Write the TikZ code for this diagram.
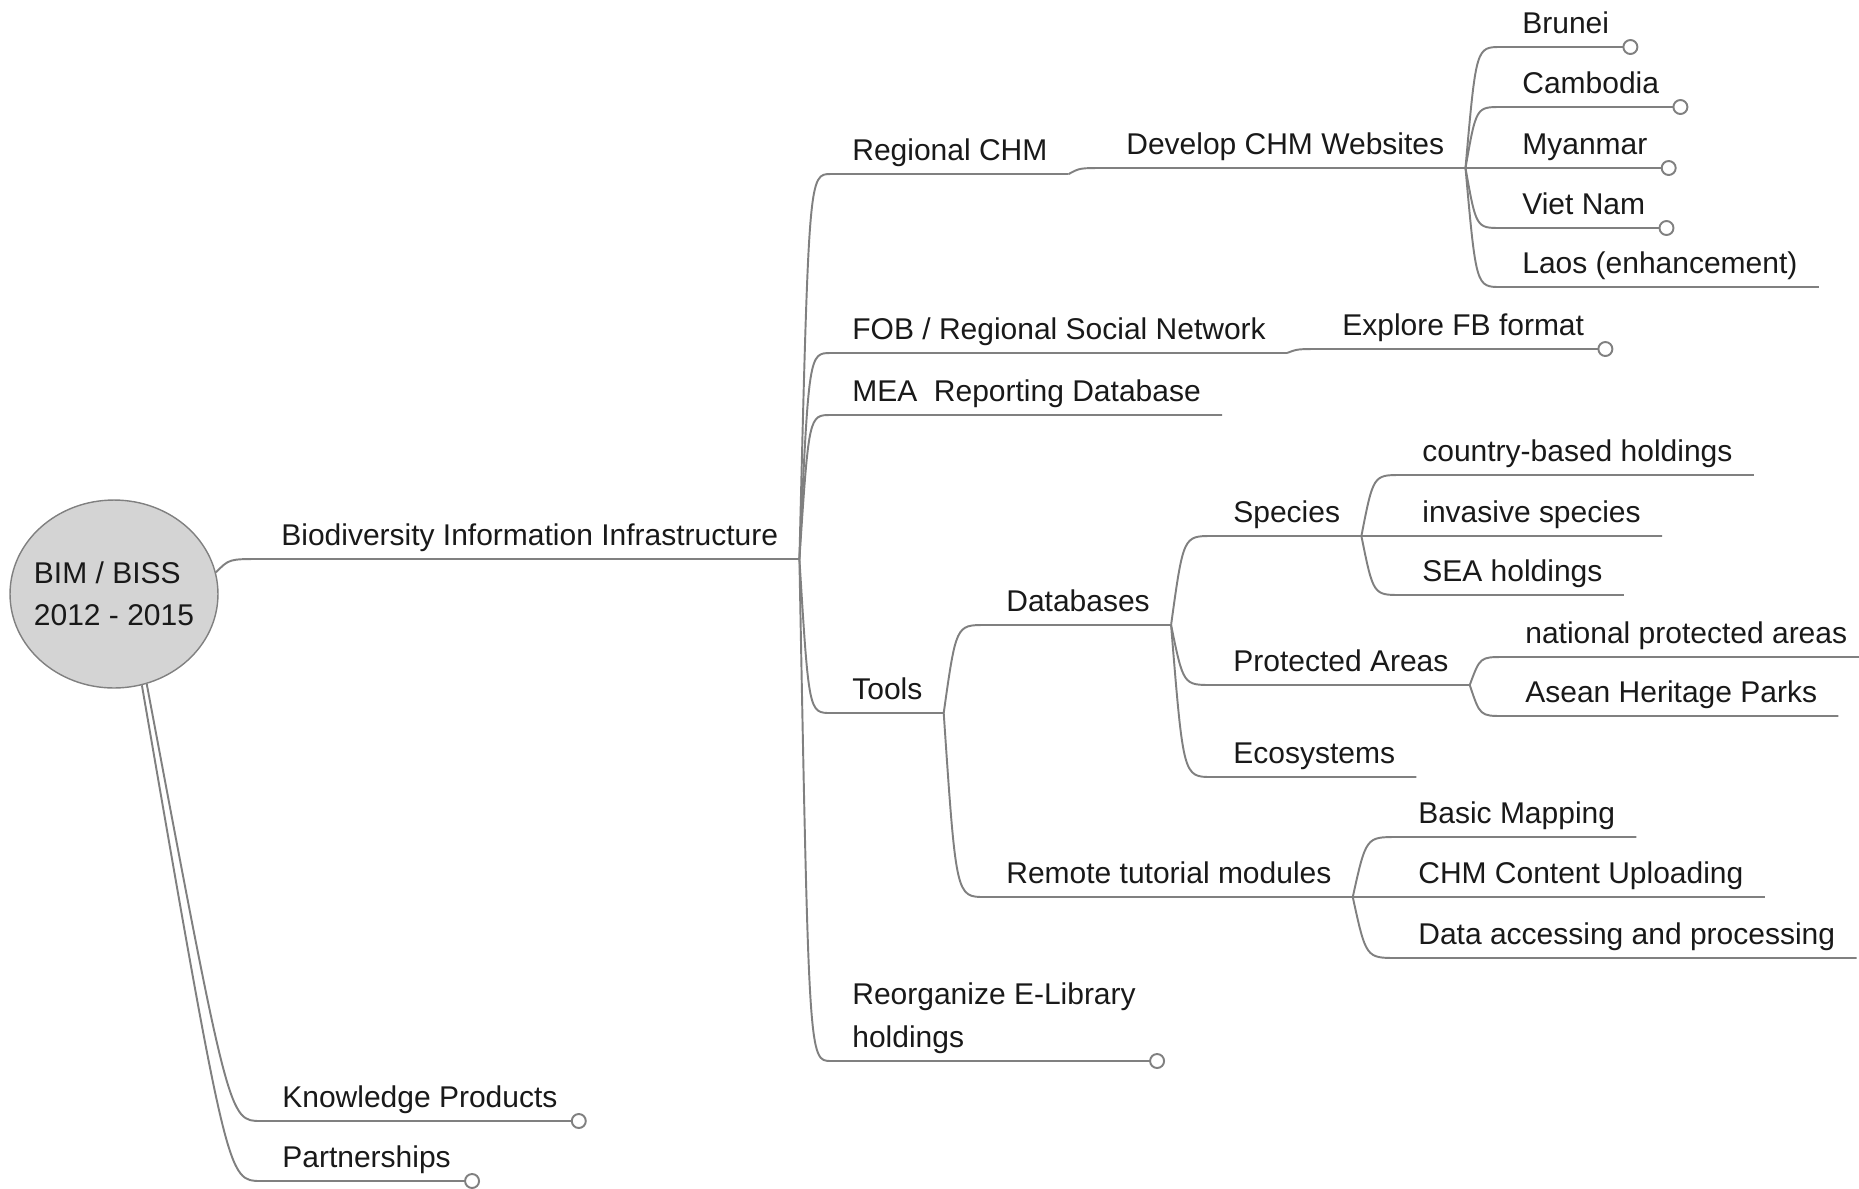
\documentclass[tikz,border=0pt]{standalone}
\usepackage{fontspec}
\setmainfont{Liberation Sans}
\usetikzlibrary{calc,shapes.geometric}
\definecolor{linegray}{RGB}{128,128,128}
\definecolor{rootfill}{RGB}{212,212,212}
\definecolor{textdark}{RGB}{25,25,25}

\begin{document}
\begin{tikzpicture}[x=0.02cm, y=-0.02cm,
    topic/.style={anchor=south west, inner xsep=0.42cm, inner ysep=0.26cm, text depth=0pt, text=textdark, font=\fontsize{17.07}{24.5}\selectfont},
    stem/.style={draw=linegray, line width=1.1pt},
    branch/.style={to path={.. controls ($(\tikztostart |- \tikztotarget)!#1!(\tikztotarget)$) .. (\tikztotarget)}},
    branch/.default=0.3,
    knob/.style={draw=linegray, fill=white, line width=1.1pt}]
    \useasboundingbox (0,0) rectangle (1859,1188);

    % centre
    \node[ellipse, draw=linegray, line width=0.8pt, fill=rootfill, minimum width=4.16cm, minimum height=3.76cm, inner sep=0pt] (root) at (114,594) {};
    \node[align=left, inner sep=0pt, text=textdark, font=\fontsize{17.07}{24}\selectfont] (rootlabel) at (root.center) {BIM / BISS\\2012 - 2015};

    % topics
    \node[topic] (bii) at (260,559) {Biodiversity Information Infrastructure};
    \node[topic] (know) at (261,1121) {Knowledge Products};
    \node[topic] (partner) at (261,1181) {Partnerships};
    \node[topic] (rchm) at (831,174) {Regional CHM};
    \node[topic] (fob) at (831,353) {FOB / Regional Social Network};
    \node[topic] (mea) at (831,415) {MEA\ \ Reporting Database};
    \node[topic] (tools) at (831,713) {Tools};
    \node[topic, align=left] (elib) at (831,1061) {Reorganize E-Library\\holdings};
    \node[topic] (develop) at (1105,168) {Develop CHM Websites};
    \node[topic] (brunei) at (1501,47) {Brunei};
    \node[topic] (cambodia) at (1501,107) {Cambodia};
    \node[topic] (myanmar) at (1501,168) {Myanmar};
    \node[topic] (vietnam) at (1501,228) {Viet Nam};
    \node[topic] (laos) at (1501,287) {Laos (enhancement)};
    \node[topic] (explore) at (1321,349) {Explore FB format};
    \node[topic] (databases) at (985,625) {Databases};
    \node[topic] (remote) at (985,897) {Remote tutorial modules};
    \node[topic] (species) at (1212,536) {Species};
    \node[topic] (protected) at (1212,685) {Protected Areas};
    \node[topic] (ecosys) at (1212,777) {Ecosystems};
    \node[topic] (country) at (1401,475) {country-based holdings};
    \node[topic] (invasive) at (1401,536) {invasive species};
    \node[topic] (sea) at (1401,595) {SEA holdings};
    \node[topic] (national) at (1504,657) {national protected areas};
    \node[topic] (asean) at (1504,716) {Asean Heritage Parks};
    \node[topic] (mapping) at (1397,837) {Basic Mapping};
    \node[topic] (upload) at (1397,897) {CHM Content Uploading};
    \node[topic] (dataproc) at (1397,958) {Data accessing and processing};

    % branches
    \draw[stem] (root.12) to[branch] (bii.south west) -- (bii.south east);
    \draw[stem] (root.-70) to[branch=0.72] (know.south west) -- (know.south east);
    \draw[stem] (root.-73) to[branch=0.72] (partner.south west) -- (partner.south east);
    \draw[stem] (bii.south east) to[branch] (rchm.south west) -- (rchm.south east);
    \draw[stem] (bii.south east) to[branch] (fob.south west) -- (fob.south east);
    \draw[stem] (bii.south east) to[branch] (mea.south west) -- (mea.south east);
    \draw[stem] (bii.south east) to[branch] (tools.south west) -- (tools.south east);
    \draw[stem] (bii.south east) to[branch] (elib.south west) -- (elib.south east);
    \draw[stem] (rchm.south east) to[branch] (develop.south west) -- (develop.south east);
    \draw[stem] (develop.south east) to[branch] (brunei.south west) -- (brunei.south east);
    \draw[stem] (develop.south east) to[branch] (cambodia.south west) -- (cambodia.south east);
    \draw[stem] (develop.south east) to[branch] (myanmar.south west) -- (myanmar.south east);
    \draw[stem] (develop.south east) to[branch] (vietnam.south west) -- (vietnam.south east);
    \draw[stem] (develop.south east) to[branch] (laos.south west) -- (laos.south east);
    \draw[stem] (fob.south east) to[branch] (explore.south west) -- (explore.south east);
    \draw[stem] (tools.south east) to[branch] (databases.south west) -- (databases.south east);
    \draw[stem] (tools.south east) to[branch] (remote.south west) -- (remote.south east);
    \draw[stem] (databases.south east) to[branch] (species.south west) -- (species.south east);
    \draw[stem] (databases.south east) to[branch] (protected.south west) -- (protected.south east);
    \draw[stem] (databases.south east) to[branch] (ecosys.south west) -- (ecosys.south east);
    \draw[stem] (species.south east) to[branch] (country.south west) -- (country.south east);
    \draw[stem] (species.south east) to[branch] (invasive.south west) -- (invasive.south east);
    \draw[stem] (species.south east) to[branch] (sea.south west) -- (sea.south east);
    \draw[stem] (protected.south east) to[branch] (national.south west) -- (national.south east);
    \draw[stem] (protected.south east) to[branch] (asean.south west) -- (asean.south east);
    \draw[stem] (remote.south east) to[branch] (mapping.south west) -- (mapping.south east);
    \draw[stem] (remote.south east) to[branch] (upload.south west) -- (upload.south east);
    \draw[stem] (remote.south east) to[branch] (dataproc.south west) -- (dataproc.south east);

    % folded ends
    \filldraw[knob] (brunei.south east) circle[radius=0.14cm];
    \filldraw[knob] (cambodia.south east) circle[radius=0.14cm];
    \filldraw[knob] (myanmar.south east) circle[radius=0.14cm];
    \filldraw[knob] (vietnam.south east) circle[radius=0.14cm];
    \filldraw[knob] (explore.south east) circle[radius=0.14cm];
    \filldraw[knob] (elib.south east) circle[radius=0.14cm];
    \filldraw[knob] (know.south east) circle[radius=0.14cm];
    \filldraw[knob] (partner.south east) circle[radius=0.14cm];
\end{tikzpicture}
\end{document}
